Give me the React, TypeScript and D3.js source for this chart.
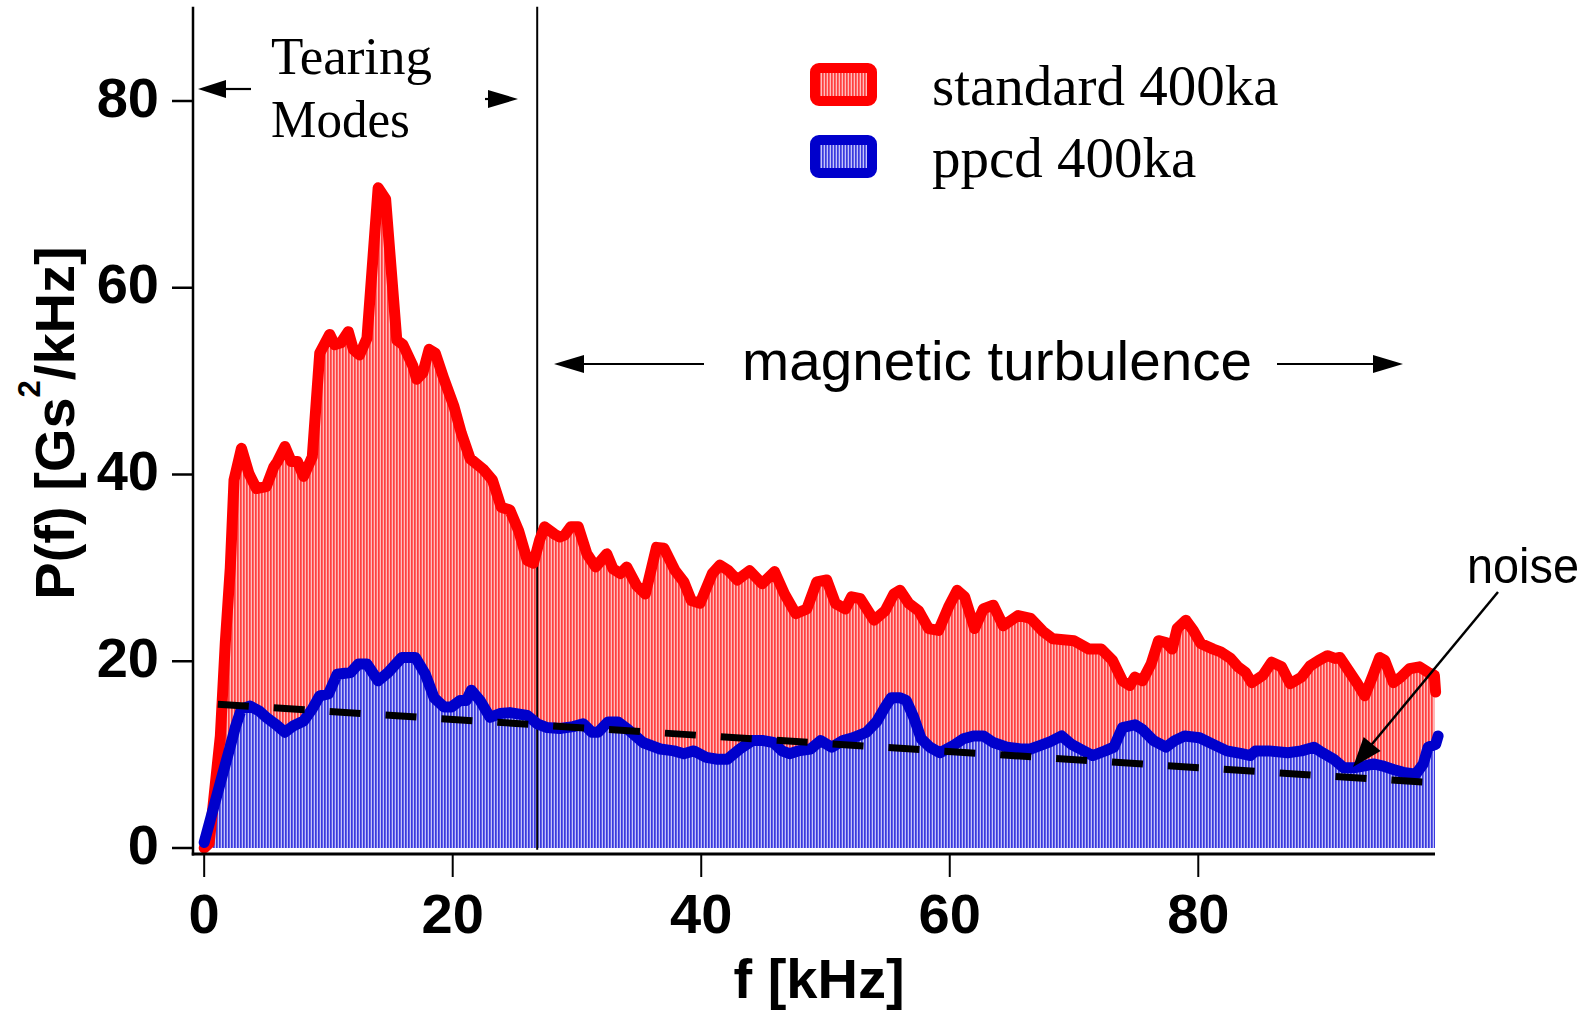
import React from 'react';
import * as d3 from 'd3';

const yTicks = [0, 20, 40, 60, 80];
const xTicks = [0, 20, 40, 60, 80];

const redF = [0, 0.4, 1.3, 1.7, 2.1, 2.4, 3.0, 3.6, 4.2, 5.0, 5.6, 5.9, 6.5, 7.0, 7.5, 8.0, 8.7, 9.3, 10.1, 10.5, 11.0, 11.6, 12.0, 12.5, 13.1, 14.0, 14.6, 15.5, 16.0, 16.8, 17.1, 17.6, 18.1, 18.6, 19.3, 20.1, 20.7, 21.4, 22.5, 23.2, 23.9, 24.6, 25.3, 26.0, 26.5, 27.0, 27.4, 28.2, 28.6, 29.0, 29.5, 30.1, 30.8, 31.5, 32.4, 32.9, 33.5, 34.0, 34.8, 35.5, 36.4, 37.0, 37.9, 38.6, 39.2, 39.9, 40.9, 41.5, 42.2, 42.9, 43.9, 44.9, 45.9, 46.7, 47.6, 48.5, 49.3, 50.1, 50.8, 51.6, 52.1, 52.8, 53.9, 54.8, 55.5, 56.0, 56.7, 57.5, 58.3, 59.1, 59.9, 60.6, 61.2, 62.0, 62.7, 63.5, 64.3, 65.5, 66.5, 67.5, 68.3, 70.0, 71.2, 72.2, 73.1, 73.9, 74.5, 74.9, 75.5, 76.2, 76.8, 77.4, 77.9, 78.3, 79.0, 79.6, 80.2, 81.2, 81.8, 82.6, 83.2, 83.8, 84.3, 85.2, 85.9, 86.7, 87.4, 88.3, 89.0, 89.7, 90.4, 91.0, 91.4, 92.1, 92.8, 93.4, 94.0, 94.6, 95.0, 95.7, 96.3, 97.0, 97.8, 98.5, 99.0, 99.1];
const redP = [0, 0.5, 12, 22, 30, 39.4, 42.8, 40.1, 38.5, 38.7, 40.8, 41.4, 43.0, 41.4, 41.4, 39.8, 41.9, 53.0, 55.0, 53.9, 54.1, 55.3, 53.4, 52.8, 54.6, 70.7, 69.5, 54.4, 53.9, 51.6, 50.2, 50.9, 53.4, 53.0, 50.2, 47.3, 44.4, 41.7, 40.5, 39.4, 36.5, 36.2, 34.0, 30.8, 30.5, 33.0, 34.4, 33.6, 33.3, 33.5, 34.4, 34.4, 31.5, 30.1, 31.5, 29.9, 29.4, 30.1, 28.1, 27.2, 32.2, 32.1, 29.7, 28.5, 26.5, 26.2, 29.4, 30.3, 29.7, 28.7, 29.7, 28.3, 29.6, 27.2, 25.1, 25.6, 28.5, 28.7, 26.2, 25.6, 26.9, 26.7, 24.4, 25.4, 27.2, 27.6, 26.2, 25.4, 23.5, 23.3, 25.8, 27.6, 26.9, 23.5, 25.6, 26.0, 23.8, 24.9, 24.6, 23.2, 22.4, 22.2, 21.3, 21.3, 20.1, 17.9, 17.4, 18.3, 17.9, 19.7, 22.2, 22.0, 21.3, 23.5, 24.4, 23.3, 21.9, 21.3, 21.0, 20.3, 19.4, 18.8, 17.7, 18.5, 19.9, 19.4, 17.6, 18.3, 19.5, 20.1, 20.6, 20.3, 20.4, 19.0, 17.6, 16.3, 18.3, 20.4, 20.1, 17.7, 18.3, 19.2, 19.4, 18.8, 18.5, 16.7];

const blueF = [0, 0.75, 1.4, 2.0, 2.5, 3.0, 3.7, 4.4, 5.0, 5.7, 6.5, 7.2, 8.0, 8.7, 9.3, 10.0, 10.7, 11.8, 12.4, 13.1, 14.0, 14.8, 15.9, 17.0, 17.8, 18.5, 19.3, 19.9, 20.6, 21.1, 21.5, 22.2, 23.0, 23.8, 24.6, 26.0, 26.8, 27.6, 28.6, 29.7, 30.5, 31.2, 31.7, 32.5, 33.3, 34.1, 35.3, 36.7, 37.8, 38.6, 39.4, 40.4, 41.3, 42.1, 43.1, 44.1, 45.0, 45.8, 46.5, 47.1, 47.8, 48.8, 49.6, 50.5, 51.4, 52.2, 53.3, 54.1, 54.8, 55.3, 56.0, 56.5, 57.1, 57.7, 58.4, 59.2, 60.2, 61.1, 61.9, 62.7, 63.5, 64.6, 65.7, 66.5, 67.3, 68.1, 69.0, 69.8, 70.5, 71.5, 72.5, 73.2, 73.9, 74.9, 75.5, 76.4, 77.4, 78.1, 78.9, 80.1, 81.2, 82.3, 83.5, 84.2, 84.6, 85.7, 87.2, 88.3, 89.3, 90.0, 90.9, 91.7, 92.6, 93.4, 94.1, 94.8, 95.7, 96.5, 97.5, 98.1, 98.5, 99.1, 99.3];
const blueP = [0.6, 4.3, 7.5, 10.4, 12.9, 14.9, 15.2, 14.7, 14.0, 13.3, 12.4, 13.1, 13.6, 14.9, 16.3, 16.5, 18.6, 18.8, 19.7, 19.7, 17.9, 18.8, 20.4, 20.4, 18.6, 16.1, 15.1, 15.1, 15.8, 15.8, 16.9, 15.8, 14.0, 14.4, 14.5, 14.2, 13.3, 12.9, 12.8, 13.0, 13.3, 12.4, 12.4, 13.5, 13.5, 12.7, 11.3, 10.6, 10.4, 10.1, 10.4, 9.7, 9.5, 9.5, 10.6, 11.5, 11.5, 11.3, 10.4, 10.1, 10.4, 10.6, 11.5, 10.8, 11.5, 11.8, 12.4, 13.5, 15.1, 16.1, 16.1, 15.8, 14.0, 11.7, 10.8, 10.2, 10.9, 11.7, 12.0, 12.0, 11.3, 10.8, 10.6, 10.6, 11.0, 11.4, 12.0, 11.1, 10.6, 9.9, 10.4, 10.8, 12.9, 13.2, 12.7, 11.5, 10.8, 11.5, 12.0, 11.8, 11.1, 10.4, 10.1, 9.9, 10.4, 10.4, 10.2, 10.4, 10.8, 10.2, 9.5, 8.6, 8.6, 8.8, 9.0, 8.8, 8.4, 8.1, 7.9, 9.0, 10.8, 11.1, 12.0];

const noiseF = [1.1, 98.1];
const noiseP = [15.4, 7.05];
const tearingBoundary = 26.8;
const legendLabels = ['standard 400ka', 'ppcd 400ka'];
const seriesColors = ['#ff0000', '#0000cc'];

function arrow(x1: number, y1: number, x2: number, y2: number, L: number, W: number) {
  const dx = x2 - x1, dy = y2 - y1;
  const len = Math.sqrt(dx * dx + dy * dy);
  const ux = dx / len, uy = dy / len;
  const bx = x2 - ux * L, by = y2 - uy * L;
  const px = -uy, py = ux;
  return {
    line: { x1, y1, x2: bx + ux * 2, y2: by + uy * 2 },
    head: `${x2},${y2} ${bx + px * W},${by + py * W} ${bx - px * W},${by - py * W}`,
  };
}

function Arrow({ x1, y1, x2, y2, L = 28, W = 9, sw = 2.2 }: any) {
  const a = arrow(x1, y1, x2, y2, L, W);
  return (
    <g>
      <line {...a.line} stroke="#000" strokeWidth={sw} />
      <polygon points={a.head} fill="#000" />
    </g>
  );
}

export default function App() {
  const W = 1594, H = 1010;
  const x = d3.scaleLinear().domain([-0.9, 99.05]).range([193, 1435]);
  const y = d3.scaleLinear().domain([0, 80]).range([848, 101]);
  const yTop = y(90.1);
  const axisY = 854;

  const red = redF.map((f, i) => [f, redP[i]] as [number, number]);
  const blue = blueF.map((f, i) => [f, blueP[i]] as [number, number]);

  const area = d3.area<[number, number]>().x(d => x(d[0])).y0(y(0)).y1(d => y(d[1]));
  const line = d3.line<[number, number]>().x(d => x(d[0])).y(d => y(d[1]));

  const redArea = red.filter(d => d[0] <= 99.05);
  const blueArea = blue.filter(d => d[0] <= 99.05).concat([[99.05, 11.2]]);

  const bold = 'Liberation Sans, Arial, sans-serif';
  const serif = 'Liberation Serif, Times New Roman, serif';

  return (
    <svg width={W} height={H} style={{ position: 'absolute', left: 0, top: 0, background: '#fff' }}>
      <defs>
        <pattern id="hatchRed" width="3" height="10" patternUnits="userSpaceOnUse">
          <rect width="3" height="10" fill="#ffbcbc" />
          <rect width="1.7" height="10" fill="#ff4040" />
        </pattern>
        <pattern id="hatchBlue" width="3" height="10" patternUnits="userSpaceOnUse">
          <rect width="3" height="10" fill="#c4c4fa" />
          <rect width="1.7" height="10" fill="#3a3ade" />
        </pattern>
      </defs>
      <rect width={W} height={H} fill="#fff" />

      {/* fills */}
      <path d={area(redArea) || ''} fill="url(#hatchRed)" />
      <path d={area(blueArea) || ''} fill="url(#hatchBlue)" />

      {/* tearing boundary */}
      <line x1={x(tearingBoundary)} x2={x(tearingBoundary)} y1={yTop} y2={y(-0.2)} stroke="#000" strokeWidth={2} />

      {/* curves */}
      <path d={line(red) || ''} fill="none" stroke={seriesColors[0]} strokeWidth={11} strokeLinejoin="round" strokeLinecap="round" />
      <path d={line(blue) || ''} fill="none" stroke={seriesColors[1]} strokeWidth={11} strokeLinejoin="round" strokeLinecap="round" />

      {/* noise fit */}
      <line x1={x(noiseF[0])} y1={y(noiseP[0])} x2={x(noiseF[1])} y2={y(noiseP[1])} stroke="#000" strokeWidth={7} strokeDasharray="31 25" />

      {/* axes */}
      <line x1={193} x2={193} y1={yTop} y2={axisY + 1.5} stroke="#000" strokeWidth={2.5} />
      <line x1={191.75} x2={x(99.05)} y1={axisY} y2={axisY} stroke="#000" strokeWidth={3} />
      {yTicks.map(t => (
        <g key={'y' + t}>
          <line x1={172} x2={193} y1={y(t)} y2={y(t)} stroke="#000" strokeWidth={2.5} />
          <text x={159} y={y(t) - 4} textAnchor="end" dominantBaseline="central" fontFamily={bold} fontWeight="bold" fontSize={56}>{t}</text>
        </g>
      ))}
      {xTicks.map(t => (
        <g key={'x' + t}>
          <line x1={x(t)} x2={x(t)} y1={axisY} y2={877} stroke="#000" strokeWidth={2} />
          <text x={x(t)} y={933} textAnchor="middle" fontFamily={bold} fontWeight="bold" fontSize={56}>{t}</text>
        </g>
      ))}

      {/* axis titles */}
      <text x={819} y={998} textAnchor="middle" fontFamily={bold} fontWeight="bold" fontSize={56}>f [kHz]</text>
      <text transform="translate(74,423) rotate(-90)" textAnchor="middle" fontFamily={bold} fontWeight="bold" fontSize={56}>
        P(f) [Gs<tspan fontSize={31} dy={-34}>2</tspan><tspan dy={34}>/kHz]</tspan>
      </text>

      {/* Tearing modes annotation */}
      <text x={271} y={74} fontFamily={serif} fontSize={53}>Tearing</text>
      <text x={271} y={137} fontFamily={serif} fontSize={53} textLength={139} lengthAdjust="spacingAndGlyphs">Modes</text>
      <Arrow x1={251} y1={89} x2={198} y2={89} L={28} W={9} />
      <Arrow x1={485} y1={99} x2={518} y2={99} L={30} W={9} />

      {/* magnetic turbulence */}
      <text x={742} y={380} fontFamily={bold} fontSize={55} textLength={510} lengthAdjust="spacingAndGlyphs">magnetic turbulence</text>
      <Arrow x1={704} y1={364} x2={554} y2={364} L={30} W={9} />
      <Arrow x1={1277} y1={364} x2={1403} y2={364} L={30} W={9} />

      {/* noise */}
      <text x={1467} y={583} fontFamily={bold} fontSize={50} textLength={112} lengthAdjust="spacingAndGlyphs">noise</text>
      <Arrow x1={1498} y1={592} x2={1353} y2={767} L={30} W={11} sw={2.5} />

      {/* legend */}
      {legendLabels.map((lab, i) => (
        <g key={lab}>
          <rect x={815} y={68 + i * 72} width={57} height={33} rx={4} fill={i === 0 ? 'url(#hatchRed)' : 'url(#hatchBlue)'} stroke={seriesColors[i]} strokeWidth={10} />
          <text x={932} y={105 + i * 72} fontFamily={serif} fontSize={57}>{lab}</text>
        </g>
      ))}
    </svg>
  );
}
